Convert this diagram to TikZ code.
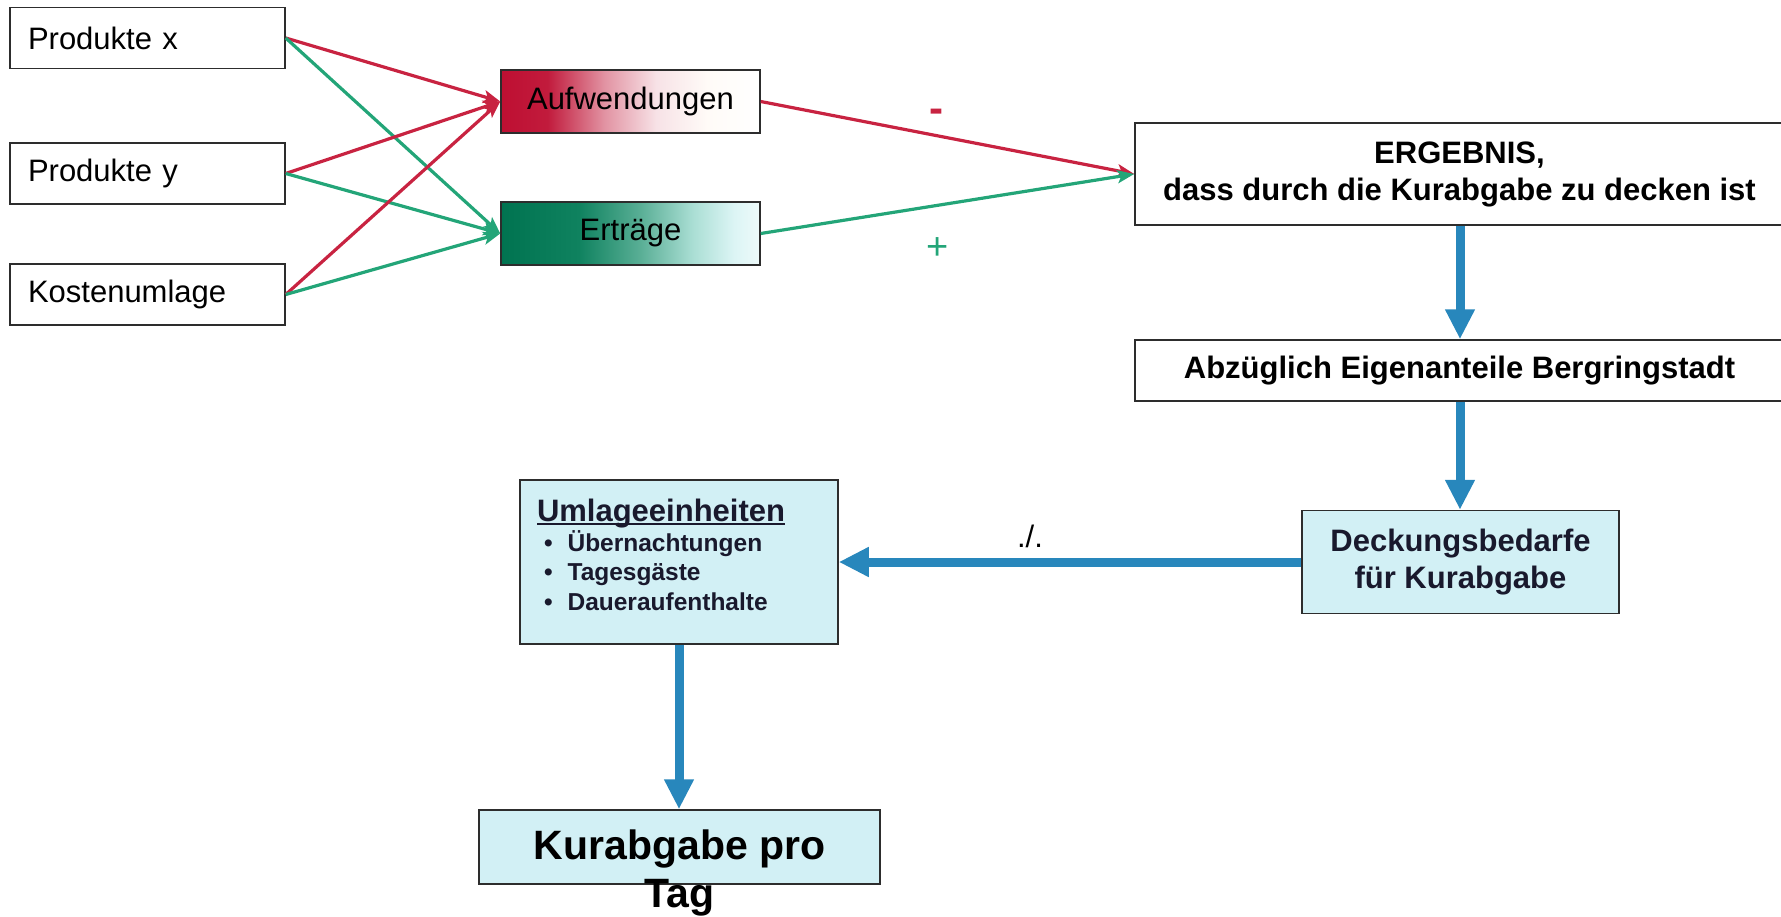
\documentclass[tikz,border=0pt]{standalone}
\usepackage{fontspec}
\setmainfont{Liberation Sans}
\usetikzlibrary{arrows.meta}
\setlength{\parindent}{0pt}
\definecolor{aufred}{RGB}{190,15,50}
\definecolor{linered}{RGB}{200,35,65}
\definecolor{linegreen}{RGB}{35,165,120}
\definecolor{bluearr}{RGB}{40,135,188}
\definecolor{boxcyan}{RGB}{210,240,245}
\definecolor{navy}{RGB}{25,25,45}
\definecolor{boxline}{RGB}{45,45,45}
\newcommand{\myuline}[1]{\setbox0\hbox{#1}\rlap{\rule[-3.5pt]{\wd0}{2pt}}\box0}
\pgfdeclarehorizontalshading{aufshade}{100bp}{color(0bp)=(aufred); color(25bp)=(aufred); color(34bp)=(aufred!95!white); color(45bp)=(aufred!45!white); color(55bp)=(aufred!12!white); color(65bp)=(white!97!orange); color(75bp)=(white); color(100bp)=(white)}
\pgfdeclarehorizontalshading{ertshade}{100bp}{color(0bp)=(rgb,255:red,0;green,115;blue,80); color(25bp)=(rgb,255:red,0;green,115;blue,80); color(40bp)=(rgb,255:red,15;green,130;blue,95); color(52bp)=(rgb,255:red,90;green,175;blue,150); color(62bp)=(rgb,255:red,170;green,222;blue,212); color(70bp)=(rgb,255:red,220;green,245;blue,245); color(75bp)=(rgb,255:red,238;green,250;blue,250); color(100bp)=(rgb,255:red,238;green,250;blue,250)}
\tikzset{
  srcbox/.style={draw=boxline, line width=1.5pt, fill=white, minimum width=275pt, minimum height=61pt, text width=239pt, inner xsep=18pt, align=left, font=\fontsize{31}{36}\selectfont},
  midbox/.style={draw=boxline, line width=1.5pt, minimum width=259pt, minimum height=63pt, inner sep=0pt, font=\fontsize{31}{36}\selectfont},
  wbox/.style={draw=boxline, line width=1.5pt, fill=white, inner sep=0pt, align=center, font=\fontsize{31}{37}\selectfont\bfseries},
  cbox/.style={draw=boxline, line width=1.5pt, fill=boxcyan, inner sep=0pt},
  redarr/.style={draw=linered, line width=3.2pt, -{Stealth[length=17pt,width=13pt,inset=4pt]}},
  greenarr/.style={draw=linegreen, line width=3.2pt, -{Stealth[length=17pt,width=13pt,inset=4pt]}},
  bluearrow/.style={draw=bluearr, line width=9pt, -{Triangle[length=30pt,width=28pt]}}
}
\begin{document}
\begin{tikzpicture}[x=1pt,y=-1pt]
\useasboundingbox (0,0) rectangle (1781,916);
% left source boxes
\node[srcbox] (px) at (147.5,38) {Produkte x};
\node[srcbox] (py) at (147.5,173.5) {Produkte y};
\node[srcbox] (ku) at (147.5,294.5) {Kostenumlage};
% gradient boxes
\node[midbox, shade, shading=aufshade] (auf) at (630.5,101.5) {Aufwendungen};
\node[midbox, shade, shading=ertshade] (ert) at (630.5,233.5) {Erträge};
% right boxes
\node[wbox, minimum width=649pt, minimum height=102pt] (erg) at (1459.5,174) {ERGEBNIS,\\dass durch die Kurabgabe zu decken ist};
\node[wbox, minimum width=649pt, minimum height=61pt] (abz) at (1459.5,370.5) {Abzüglich Eigenanteile Bergringstadt};
\node[cbox, minimum width=317pt, minimum height=103pt, align=center, text=navy, font=\fontsize{31}{37}\selectfont\bfseries] (deck) at (1460.5,562) {Deckungsbedarfe\\für Kurabgabe};
\node[cbox, minimum width=318pt, minimum height=164pt, text width=284pt, inner xsep=17pt, align=left, text=navy] (uml) at (679,562) {%
{\fontsize{31}{34}\selectfont\bfseries\myuline{Umlageeinheiten}\par}
{\fontsize{24.5}{29.5}\selectfont\bfseries
\hspace*{7pt}\textbullet\hspace{15pt}Übernachtungen\par
\hspace*{7pt}\textbullet\hspace{15pt}Tagesgäste\par
\hspace*{7pt}\textbullet\hspace{15pt}Daueraufenthalte\par}
\vspace*{14pt}};
\node[cbox, minimum width=401pt, minimum height=74pt] (kur) at (679.5,847) {};
\node[anchor=north, inner sep=0pt, align=center, font=\fontsize{41}{48}\selectfont\bfseries] (kurtext) at (679.5,830) {Kurabgabe pro\\Tag};
% red and green connectors
\draw[redarr] (px.east) -- (auf.west);
\draw[greenarr] (px.east) -- (ert.west);
\draw[redarr] (py.east) -- (auf.west);
\draw[greenarr] (py.east) -- (ert.west);
\draw[redarr] (ku.east) -- (auf.west);
\draw[greenarr] (ku.east) -- (ert.west);
\draw[redarr] (auf.east) -- (erg.west);
\draw[greenarr] (ert.east) -- (erg.west);
\node[text=linered, font=\fontsize{42}{46}\selectfont\bfseries] (minus) at (936,116) {-};
\node[text=linegreen, font=\fontsize{38}{42}\selectfont] (plus) at (938,249) {+};
% blue connectors
\draw[bluearrow] (erg.south -| 1460,0) -- (abz.north -| 1460,0);
\draw[bluearrow] (abz.south -| 1460,0) -- (deck.north -| 1460,0);
\draw[bluearrow] (deck.west) -- (deck.west -| uml.east);
\draw[bluearrow] (uml.south) -- (kur.north -| uml.south);
\node[font=\fontsize{31}{36}\selectfont] (div) at (1030,536) {./.};
\end{tikzpicture}
\end{document}
